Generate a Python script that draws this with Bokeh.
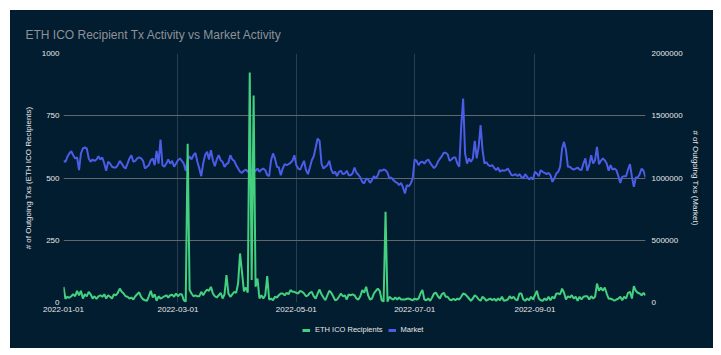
import pandas as pd
from bokeh.plotting import figure
from bokeh.layouts import column
from bokeh.models import (Range1d, LinearAxis, FixedTicker, DatetimeTickFormatter,
                          NumeralTickFormatter, Legend, LegendItem, ColumnDataSource)
from bokeh.embed import file_html
from bokeh.resources import INLINE

# ---------------- data ----------------
start_date = "2022-01-01"
x_tick_dates = ["2022-01-01", "2022-03-01", "2022-05-01", "2022-07-01", "2022-09-01"]
left_ticks = [0, 250, 500, 750, 1000]
right_ticks = [0, 500000, 1000000, 1500000, 2000000]
series_names = ["ETH ICO Recipients", "Market"]

eth_ico = [
    63, 15, 23, 19, 25, 33, 25, 47, 29, 47,
    16, 33, 25, 43, 33, 16, 25, 15, 25, 29,
    23, 33, 16, 29, 23, 16, 33, 29, 39, 56,
    43, 36, 25, 23, 16, 20, 12, 25, 33, 41,
    23, 13, 9, 7, 25, 47, 20, 33, 7, 25,
    16, 20, 25, 29, 20, 29, 31, 23, 36, 25,
    33, 33, 9, 3, 637, 50, 36, 25, 29, 25,
    25, 43, 29, 43, 52, 47, 63, 36, 25, 20,
    29, 39, 16, 33, 110, 36, 23, 33, 43, 39,
    76, 197, 123, 45, 60, 40, 924, 90, 831, 63,
    96, 16, 29, 16, 29, 106, 12, 16, 9, 23,
    20, 29, 36, 36, 29, 39, 33, 50, 43, 43,
    39, 36, 47, 43, 36, 25, 29, 39, 43, 25,
    16, 36, 52, 33, 20, 9, 29, 47, 39, 25,
    9, 12, 23, 36, 25, 29, 12, 33, 29, 33,
    29, 16, 12, 25, 50, 39, 63, 29, 12, 16,
    36, 47, 56, 47, 9, 3, 364, 3, 23, 16,
    12, 20, 12, 20, 12, 12, 12, 15, 16, 12,
    9, 16, 12, 16, 36, 50, 12, 9, 16, 7,
    20, 36, 39, 25, 16, 33, 39, 23, 23, 12,
    9, 15, 9, 16, 12, 23, 36, 33, 25, 16,
    7, 16, 29, 23, 12, 7, 23, 16, 7, 12,
    16, 9, 15, 7, 16, 9, 23, 7, 9, 12,
    25, 16, 23, 12, 9, 36, 36, 12, 7, 16,
    9, 23, 12, 29, 47, 16, 9, 7, 16, 9,
    23, 9, 23, 16, 36, 36, 33, 56, 39, 12,
    25, 20, 29, 16, 23, 7, 23, 12, 23, 25,
    25, 12, 25, 16, 23, 76, 47, 60, 47, 60,
    36, 15, 16, 12, 7, 12, 16, 23, 9, 23,
    16, 39, 43, 16, 66, 47, 39, 36, 29, 39,
    29,
]

market_thousands = [
    1138, 1130, 1170, 1197, 1215, 1183, 1157, 1165, 1063, 1197,
    1237, 1245, 1237, 1157, 1130, 1149, 1138, 1149, 1175, 1149,
    1165, 1116, 1058, 1130, 1116, 1090, 1084, 1084, 1103, 1138,
    1116, 1090, 1076, 1116, 1157, 1183, 1130, 1138, 1157, 1165,
    1157, 1138, 1076, 1090, 1103, 1143, 1157, 1103, 1218, 1116,
    1309, 1103, 1090, 1116, 1149, 1116, 1138, 1090, 1116, 1143,
    1157, 1138, 1116, 1058, 1143, 1175, 1149, 1183, 1202, 1130,
    1076, 1015, 1116, 1183, 1210, 1149, 1224, 1143, 1095, 1149,
    1183, 1143, 1130, 1090, 1111, 1122, 1183, 1149, 1138, 1103,
    1076, 1050, 1042, 1058, 1068, 1050, 1076, 1063, 1050, 1058,
    1076, 1050, 1068, 1076, 1063, 1023, 1015, 1143, 1197, 1157,
    1090, 1084, 1023, 1076, 1111, 1103, 1111, 1122, 1138, 1183,
    1103, 1076, 1068, 1103, 1138, 1063, 1031, 1084, 1143, 1175,
    1245, 1317, 1298, 1116, 1076, 1090, 1103, 1138, 1068, 1036,
    1050, 1015, 1050, 1058, 1031, 1036, 1058, 1023, 1023, 1036,
    1084, 1042, 1026, 1004, 969, 956, 996, 988, 961, 983,
    1015, 996, 1023, 1063, 1058, 1068, 1063, 1042, 996, 1004,
    983, 969, 961, 942, 961, 924, 876, 942, 934, 956,
    996, 1149, 1138, 1103, 1127, 1130, 1116, 1138, 1149, 1122,
    1100, 1079, 1095, 1130, 1154, 1175, 1202, 1202, 1191, 1138,
    1149, 1165, 1165, 1116, 1090, 1411, 1639, 1197, 1116, 1157,
    1130, 1157, 1298, 1157, 1250, 1424, 1224, 1116, 1127, 1103,
    1095, 1103, 1082, 1063, 1084, 1050, 1063, 1058, 1063, 1076,
    1050, 1023, 1023, 1031, 1015, 1031, 1009, 996, 1031, 1009,
    988, 1004, 988, 1050, 1036, 1015, 1063, 1050, 1042, 1031,
    1042, 1023, 969, 996, 1036, 1050, 1090, 1237, 1290, 1224,
    1090, 1090, 1076, 1068, 1076, 1084, 1068, 1063, 1116, 1157,
    1058, 1103, 1183, 1116, 1143, 1250, 1111, 1138, 1157, 1143,
    1116, 1058, 1103, 1068, 1076, 1063, 1015, 961, 1009, 1015,
    1015, 1068, 1111, 1009, 929, 1004, 1004, 1031, 1076, 1058,
    1004,
]

# ---------------- styling ----------------
BG = "#021c30"
GREEN = "#43d17f"
BLUE = "#4b5de6"
FONT = "Liberation Sans"
TXT = "#e8e8e8"

dates = pd.date_range(start_date, periods=len(eth_ico), freq="D")
market = [v * 1000 for v in market_thousands]
src = ColumnDataSource(dict(date=dates, eth=eth_ico, market=market))

p = figure(width=703, height=307, x_axis_type="datetime",
           output_backend="svg", toolbar_location=None,
           x_range=Range1d(dates[0], dates[-1]), y_range=Range1d(0, 1000),
           background_fill_color=BG, border_fill_color=BG,
           outline_line_color=None,
           min_border_left=53, min_border_right=68,
           min_border_top=43, min_border_bottom=15)
p.extra_y_ranges = {"market": Range1d(0, 2000000)}

p.title.text = "ETH ICO Recipient Tx Activity vs Market Activity"
p.title.text_font = FONT
p.title.text_font_size = "12px"
p.title.text_font_style = "normal"
p.title.text_color = "#8e9297"
p.title.align = "left"
p.title.offset = -38
p.title.standoff = 23

xt = [pd.Timestamp(d).value // 10**6 for d in x_tick_dates]
p.xaxis.ticker = FixedTicker(ticks=xt)
fmt = "%Y-%m-%d"
p.xaxis.formatter = DatetimeTickFormatter(days=fmt, months=fmt, years=fmt, hours=fmt)
p.xgrid.ticker = FixedTicker(ticks=xt)
p.xgrid.grid_line_color = "#2a3d50"

p.yaxis.ticker = FixedTicker(ticks=left_ticks)
p.yaxis.axis_label = "# of Outgoing Txs (ETH ICO Recipients)"
p.ygrid.ticker = FixedTicker(ticks=left_ticks)
p.ygrid.grid_line_color = "#63676b"

right = LinearAxis(y_range_name="market", ticker=FixedTicker(ticks=right_ticks),
                   formatter=NumeralTickFormatter(format="0"),
                   axis_label="# of Outgoing Txs (Market)")
p.add_layout(right, "right")

for ax in [p.xaxis[0], p.yaxis[0], right]:
    ax.axis_line_color = None
    ax.major_tick_line_color = None
    ax.minor_tick_line_color = None
    ax.major_tick_out = 0
    ax.major_tick_in = 0
    ax.minor_tick_out = 0
    ax.minor_tick_in = 0
    ax.major_label_text_color = TXT
    ax.major_label_text_font = FONT
    ax.major_label_text_font_size = "8px"
    ax.axis_label_text_color = TXT
    ax.axis_label_text_font = FONT
    ax.axis_label_text_font_size = "8px"
    ax.axis_label_text_font_style = "normal"
p.xaxis[0].major_label_standoff = 4
p.yaxis[0].major_label_standoff = 4
p.yaxis[0].axis_label_standoff = 6
right.major_label_standoff = 6
right.axis_label_standoff = 5

p.line("date", "market", source=src, color=BLUE, line_width=2, y_range_name="market")
p.line("date", "eth", source=src, color=GREEN, line_width=2)

# ---------------- legend strip ----------------
leg = figure(width=703, height=31, output_backend="svg", toolbar_location=None,
             x_range=Range1d(0, 1), y_range=Range1d(0, 1),
             x_axis_location=None, y_axis_location=None,
             background_fill_color=BG, border_fill_color=BG,
             outline_line_color=None, min_border=0)
leg.grid.visible = False
# legend proxies, kept outside the visible range
lg = leg.line(x=[-2, -1], y=[-2, -2], color=GREEN, line_width=3)
lb = leg.line(x=[-2, -1], y=[-2, -2], color=BLUE, line_width=3)
legend = Legend(items=[LegendItem(label=series_names[0], renderers=[lg]),
                       LegendItem(label=series_names[1], renderers=[lb])],
                orientation="horizontal", location=(237, 12),
                background_fill_alpha=0, border_line_alpha=0,
                label_text_color=TXT, label_text_font=FONT,
                label_text_font_size="7.5px", glyph_width=8, glyph_height=8,
                spacing=5, padding=2, margin=0,
                label_height=8, label_standoff=5, label_width=10)
leg.add_layout(legend, "center")

layout = column(p, leg, spacing=0, margin=(10, 0, 0, 10),
                styles={"background-color": BG})
open("out.html", "w").write(file_html(layout, INLINE))
